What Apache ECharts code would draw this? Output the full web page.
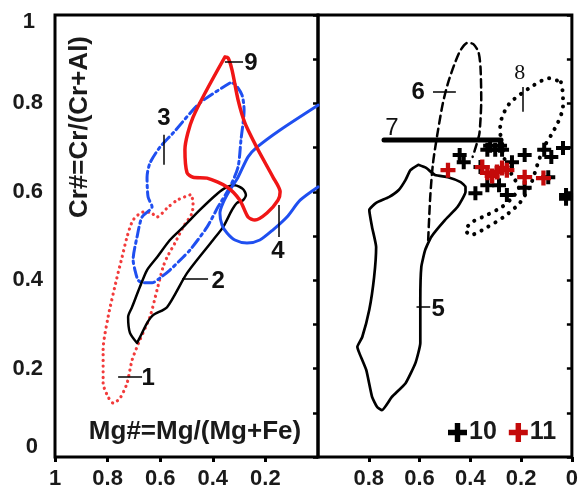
<!DOCTYPE html>
<html><head><meta charset="utf-8">
<script src="https://cdn.jsdelivr.net/npm/echarts@6/dist/echarts.min.js"></script>
<style>html,body{margin:0;padding:0;background:#fff}#c{width:581px;height:490px}</style>
</head><body><div id="c"></div>
<script>
// ---- Data (x = Mg#, y = Cr#) ----
const xTicks = [1, 0.8, 0.6, 0.4, 0.2, 0];
const yTickLabels = ['0', '0.2', '0.4', '0.6', '0.8', '1'];

// Left panel fields
const field1 = [[0.487,0.593],[0.536,0.581],[0.574,0.563],[0.612,0.543],[0.639,0.554],[0.665,0.554],[0.703,0.536],[0.726,0.498],[0.745,0.452],[0.764,0.407],[0.798,0.317],[0.817,0.242],[0.817,0.167],[0.798,0.136],[0.779,0.122],[0.753,0.133],[0.726,0.167],[0.707,0.219],[0.677,0.265],[0.639,0.317],[0.612,0.378],[0.589,0.430],[0.574,0.452],[0.544,0.484],[0.513,0.520],[0.479,0.552],[0.475,0.581],[0.487,0.593]];
const field2 = [[0.688,0.258],[0.715,0.281],[0.722,0.317],[0.707,0.339],[0.677,0.385],[0.650,0.423],[0.612,0.452],[0.563,0.491],[0.513,0.520],[0.449,0.559],[0.384,0.595],[0.346,0.611],[0.316,0.615],[0.285,0.606],[0.274,0.593],[0.285,0.581],[0.308,0.575],[0.327,0.559],[0.361,0.520],[0.399,0.491],[0.498,0.416],[0.574,0.339],[0.627,0.321],[0.650,0.303],[0.677,0.271],[0.688,0.258]];
const field3 = [[0.335,0.846],[0.449,0.801],[0.551,0.733],[0.601,0.701],[0.639,0.665],[0.650,0.633],[0.646,0.588],[0.631,0.566],[0.669,0.543],[0.688,0.498],[0.703,0.446],[0.696,0.423],[0.684,0.400],[0.665,0.394],[0.631,0.394],[0.601,0.405],[0.563,0.423],[0.513,0.452],[0.487,0.468],[0.422,0.520],[0.380,0.566],[0.335,0.611],[0.304,0.656],[0.293,0.717],[0.281,0.785],[0.289,0.819],[0.316,0.844],[0.335,0.846]];
const field4 = [[0.0,0.796],[0.144,0.740],[0.232,0.701],[0.266,0.679],[0.304,0.633],[0.335,0.604],[0.361,0.575],[0.373,0.552],[0.365,0.525],[0.346,0.507],[0.316,0.491],[0.270,0.484],[0.221,0.491],[0.171,0.514],[0.118,0.543],[0.068,0.581],[0.0,0.611]];
const field9 = [[0.354,0.905],[0.475,0.769],[0.506,0.695],[0.498,0.643],[0.475,0.633],[0.422,0.631],[0.346,0.611],[0.297,0.581],[0.266,0.543],[0.240,0.536],[0.194,0.552],[0.152,0.581],[0.144,0.600],[0.171,0.633],[0.228,0.695],[0.278,0.756],[0.304,0.808],[0.327,0.876],[0.342,0.903],[0.354,0.905]];

// Right panel fields
const field5 = [[0.605,0.661],[0.574,0.654],[0.539,0.638],[0.488,0.633],[0.438,0.622],[0.419,0.611],[0.419,0.600],[0.450,0.566],[0.500,0.536],[0.554,0.498],[0.578,0.468],[0.593,0.430],[0.597,0.355],[0.597,0.258],[0.616,0.213],[0.655,0.167],[0.709,0.136],[0.748,0.106],[0.767,0.113],[0.787,0.136],[0.810,0.197],[0.837,0.235],[0.845,0.249],[0.826,0.271],[0.798,0.333],[0.779,0.407],[0.771,0.475],[0.787,0.520],[0.798,0.559],[0.771,0.575],[0.721,0.588],[0.682,0.604],[0.655,0.627],[0.636,0.649],[0.605,0.661]];
const field6 = [[0.566,0.491],[0.558,0.588],[0.547,0.665],[0.527,0.740],[0.508,0.801],[0.488,0.846],[0.461,0.891],[0.438,0.921],[0.411,0.937],[0.388,0.934],[0.368,0.916],[0.360,0.882],[0.357,0.808],[0.364,0.733],[0.376,0.706],[0.391,0.679]];
const field7 = [[0.740,0.717],[0.279,0.717]];
const field8 = [[0.043,0.848],[0.035,0.819],[0.035,0.792],[0.054,0.758],[0.081,0.729],[0.112,0.699],[0.136,0.661],[0.163,0.615],[0.205,0.575],[0.264,0.545],[0.333,0.520],[0.399,0.502],[0.419,0.514],[0.391,0.532],[0.333,0.548],[0.275,0.566],[0.236,0.586],[0.209,0.609],[0.236,0.638],[0.264,0.672],[0.275,0.706],[0.283,0.740],[0.275,0.769],[0.244,0.801],[0.167,0.835],[0.089,0.857],[0.043,0.848]];
const samples10 = [[0.442,0.683],[0.426,0.667],[0.333,0.695],[0.302,0.695],[0.275,0.695],[0.322,0.704],[0.283,0.704],[0.236,0.667],[0.186,0.683],[0.109,0.695],[0.081,0.679],[0.035,0.699],[0.093,0.633],[0.360,0.656],[0.333,0.615],[0.287,0.615],[0.380,0.597],[0.256,0.593],[0.186,0.609],[0.023,0.593],[0.023,0.584]];
const samples11 = [[0.488,0.649],[0.353,0.656],[0.333,0.643],[0.314,0.636],[0.295,0.645],[0.275,0.654],[0.256,0.649],[0.186,0.633],[0.112,0.631]];

// Field labels and leader lines (data coordinates)
const labelsLeft = [['1',0.646,0.179],['2',0.380,0.398],['3',0.586,0.765],['4',0.152,0.466],['9',0.255,0.891]];
const labelsRight = [['5',0.527,0.333],['6',0.605,0.826]];
const labelsRightThin = [['7',0.709,0.744]];
const labelsRightSerif = [['8',0.205,0.869]];
const leadersLeft = [[[0.760,0.181],[0.669,0.181]],[[0.517,0.403],[0.418,0.403]],[[0.586,0.729],[0.586,0.661]],[[0.148,0.570],[0.148,0.498]],[[0.354,0.894],[0.285,0.894]]];
const leadersRight = [[[0.612,0.339],[0.558,0.339]],[[0.547,0.826],[0.457,0.826]],[[0.194,0.837],[0.194,0.781]]];

const FONT = '"Liberation Sans", Arial, sans-serif';
const CROSS = 'path://M4,0H7.2V11.2H4ZM0,4H11.2V7.2H0Z';

function poly(data, xi, color, width, type, smooth) {
  return {type:'line', xAxisIndex:xi, yAxisIndex:xi, data:data, showSymbol:false, symbol:'none',
    smooth: smooth === undefined ? 0.25 : smooth, silent:true,
    lineStyle:{color:color, width:width, type:type, cap:'round', join:'round'}, z:3};
}
function labels(arr, xi, style) {
  return {type:'scatter', xAxisIndex:xi, yAxisIndex:xi, symbolSize:0, silent:true, z:6,
    itemStyle:{opacity:1},
    data: arr.map(a => ({name:a[0], value:[a[1], a[2]]})),
    label: Object.assign({show:true, position:'inside', formatter:'{b}', align:'center', verticalAlign:'middle', opacity:1}, style)};
}
function leaders(arr, xi) {
  return {type:'lines', coordinateSystem:'cartesian2d', xAxisIndex:xi, yAxisIndex:xi, silent:true, z:5,
    data: arr.map(c => ({coords:c})), lineStyle:{color:'#000', width:1.5, opacity:1}};
}

const yLabelFmt = v => {
  const k = Math.round(v * 10);
  if (k % 2) return '';
  const s = yTickLabels[k / 2];
  if (k === 10) return '{t|' + s + '}';
  if (k === 0) return '{b|' + s + '}';
  return s;
};

const chart = echarts.init(document.getElementById('c'), null, {renderer:'canvas'});
chart.setOption({
  animation:false,
  backgroundColor:'#fff',
  textStyle:{fontFamily:FONT},
  grid:[
    {left:55, top:15, width:263, height:442, show:true, borderColor:'#000', borderWidth:3},
    {left:318, top:15, width:259, height:442, show:true, borderColor:'#000', borderWidth:3}
  ],
  xAxis:[
    {gridIndex:0, type:'value', min:0, max:1, interval:0.2, inverse:true, splitLine:{show:false},
     axisLine:{show:false}, axisTick:{length:5, lineStyle:{width:3, color:'#000'}},
     axisLabel:{margin:11, fontSize:22, fontWeight:'bold', color:'#1a1a1a', showMinLabel:false, fontFamily:FONT}},
    {gridIndex:1, type:'value', min:0, max:1, interval:0.2, inverse:true, splitLine:{show:false},
     axisLine:{show:false}, axisTick:{length:5, lineStyle:{width:3, color:'#000'}},
     axisLabel:{margin:11, fontSize:22, fontWeight:'bold', color:'#1a1a1a', showMaxLabel:false, fontFamily:FONT}}
  ],
  yAxis:[
    {gridIndex:0, type:'value', min:0, max:1, interval:0.1, splitLine:{show:false},
     axisLine:{show:false}, axisTick:{length:5, lineStyle:{width:2.5, color:'#000'}},
     axisLabel:{margin:12, fontSize:22, fontWeight:'bold', color:'#1a1a1a', fontFamily:FONT, formatter:yLabelFmt,
       rich:{t:{fontSize:22, fontWeight:'bold', color:'#1a1a1a', padding:[14,8,0,0]},
             b:{fontSize:22, fontWeight:'bold', color:'#1a1a1a', padding:[0,5,20,0]}}}},
    {gridIndex:1, type:'value', min:0, max:1, interval:0.1, splitLine:{show:false},
     axisLine:{show:false}, axisTick:{length:5, lineStyle:{width:2.5, color:'#000'}},
     axisLabel:{show:false}}
  ],
  legend:{data:['10','11'], left:443, top:415, orient:'horizontal', itemWidth:19, itemHeight:19, itemGap:12,
    textStyle:{fontSize:25, fontWeight:'bold', color:'#1a1a1a', fontFamily:FONT, padding:[0,0,0,-3]}, selectedMode:false},
  graphic:[
    {type:'text', x:80, y:127, rotation:Math.PI/2, style:{text:'Cr#=Cr/(Cr+Al)', x:0, y:0, align:'center', verticalAlign:'middle',
      font:'bold 26px ' + FONT, fill:'#1a1a1a'}},
    {type:'text', x:195, y:432, style:{text:'Mg#=Mg/(Mg+Fe)', x:0, y:0, align:'center', verticalAlign:'middle',
      font:'bold 26px ' + FONT, fill:'#1a1a1a'}}
  ],
  series:[
    poly(field1, 0, '#f23b3b', 3.2, [0.1, 5.5]),
    poly(field3, 0, '#1f4ff0', 3, [10, 4, 2.5, 4]),
    poly(field2, 0, '#000000', 2.5, 'solid'),
    poly(field4, 0, '#1f4ff0', 3, 'solid'),
    poly(field9, 0, '#f01616', 3.5, 'solid'),
    poly(field5, 1, '#000000', 2.7, 'solid', 0.15),
    poly(field6, 1, '#000000', 2.5, [8, 5]),
    poly(field7, 1, '#000000', 5, 'solid', 0),
    poly(field8, 1, '#000000', 4, [0.1, 8]),
    leaders(leadersLeft, 0),
    leaders(leadersRight, 1),
    labels(labelsLeft, 0, {fontSize:24, fontWeight:'bold', color:'#111', fontFamily:FONT}),
    labels(labelsRight, 1, {fontSize:24, fontWeight:'bold', color:'#111', fontFamily:FONT}),
    labels(labelsRightThin, 1, {fontSize:24, fontWeight:'normal', color:'#111', fontFamily:FONT}),
    labels(labelsRightSerif, 1, {fontSize:22, fontWeight:'normal', color:'#111', fontFamily:'"Liberation Serif", serif'}),
    {name:'10', type:'scatter', xAxisIndex:1, yAxisIndex:1, data:samples10, symbol:CROSS, symbolSize:14,
     itemStyle:{color:'#000', opacity:1}, z:7},
    {name:'11', type:'scatter', xAxisIndex:1, yAxisIndex:1, data:samples11, symbol:CROSS, symbolSize:15,
     itemStyle:{color:'#c40a0a', opacity:1}, z:8}
  ]
});
</script>
</body></html>
